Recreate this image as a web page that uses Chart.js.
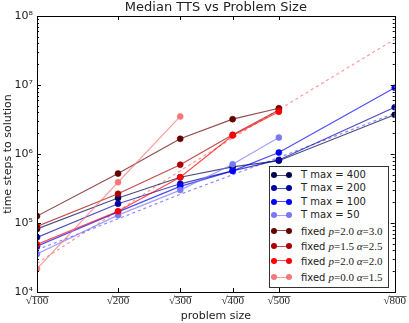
<!DOCTYPE html>
<html>
<head>
<meta charset="utf-8">
<script src="https://cdn.jsdelivr.net/npm/chart.js@4.4.0/dist/chart.umd.min.js"></script>
<style>
  html, body { margin: 0; padding: 0; background: #fff; }
  #wrap { position: relative; width: 409px; height: 323px; }
  #legend {
    position: absolute; left: 269px; top: 166px; width: 120px; height: 122px;
    border: 1px solid #333; background: #fff; box-sizing: border-box;
    font-family: 'DejaVu Sans', sans-serif; font-size: 10px; color: #222;
  }
  .row { position: absolute; left: 0; height: 14px; line-height: 14px; white-space: nowrap; }
  .sample { position: absolute; left: 4px; top: 7px; width: 15px; height: 0; }
  .sample .ln { position: absolute; left: 0; top: -0.5px; width: 15px; height: 1.2px; }
  .sample .dot { position: absolute; top: -3px; width: 6px; height: 6px; border-radius: 50%; box-sizing: border-box; }
  .txt { position: absolute; left: 31px; top: 0; }
  .m { font-family: 'Liberation Serif', serif; font-size: 11px; }
  .m i { font-style: italic; }
</style>
</head>
<body>
<div id="wrap">
  <canvas id="chart" width="409" height="323"></canvas>
  <div id="legend"></div>
</div>
<script>
// problem sizes (x axis is sqrt of these)
const sizes = [100, 200, 300, 400, 500, 800];
const xTicks = [100, 200, 300, 400, 500, 800];
const yTicks = [1e4, 1e5, 1e6, 1e7, 1e8];
const title = 'Median TTS vs Problem Size';

// median time steps to solution, null = not run
const tmax400 = [8.2e4, 2.3e5, 4.6e5, 6.5e5, 8.0e5, 3.7e6];
const tmax200 = [6.2e4, 1.9e5, 3.7e5, 5.7e5, 8.2e5, 4.75e6];
const tmax100 = [4.6e4, 1.45e5, 3.4e5, 5.7e5, 1.05e6, 9.1e6];
const tmax50  = [3.55e4, 1.3e5, 3.0e5, 7.1e5, 1.73e6, null];
const fixedA = [1.26e5, 5.2e5, 1.66e6, 3.2e6, 4.6e6, null];   // p=2.0 a=3.0
const fixedB = [8.9e4, 2.65e5, 7.0e5, 1.9e6, 4.35e6, null];   // p=1.5 a=2.5
const fixedC = [4.9e4, 1.48e5, 4.6e5, 1.85e6, 4.1e6, null];   // p=2.0 a=2.0
const fixedD = [2.17e4, 3.9e5, 3.5e6, null, null, null];      // p=0.0 a=1.5

// dashed fit curves at the tick sizes
const fitBlue = [4.1e4, 1.15e5, 2.6e5, 5.0e5, 8.9e5, 3.9e6];
const fitPink = [2.6e4, 1.5e5, 5.7e5, 1.7e6, 4.4e6, 4.6e7];

const series = [
  { label: 'T max = 400', data: tmax400, color: '0,0,76' },
  { label: 'T max = 200', data: tmax200, color: '0,0,166' },
  { label: 'T max = 100', data: tmax100, color: '0,0,255' },
  { label: 'T max = 50', data: tmax50, color: '120,120,245' },
  { label: 'fixed', math: ['p', '=2.0 ', 'α', '=3.0'], data: fixedA, color: '100,0,0' },
  { label: 'fixed', math: ['p', '=1.5 ', 'α', '=2.5'], data: fixedB, color: '170,0,0' },
  { label: 'fixed', math: ['p', '=2.0 ', 'α', '=2.0'], data: fixedC, color: '255,0,0' },
  { label: 'fixed', math: ['p', '=0.0 ', 'α', '=1.5'], data: fixedD, color: '245,120,120' }
];

function toPoints(vals) {
  const pts = [];
  vals.forEach((v, i) => { if (v !== null) pts.push({ x: Math.sqrt(sizes[i]), y: v }); });
  return pts;
}

const datasets = series.map((s, i) => ({
  label: s.label,
  data: toPoints(s.data),
  borderColor: `rgba(${s.color},0.7)`,
  borderWidth: 1.2,
  backgroundColor: `rgb(${s.color})`,
  pointBackgroundColor: `rgb(${s.color})`,
  pointBorderColor: `rgba(${s.color},1)`,
  pointBorderWidth: 0.6,
  pointRadius: 3,
  order: -i
}));

datasets.push({
  label: 'fit T', data: toPoints(fitBlue), borderColor: 'rgba(90,90,255,0.7)',
  borderWidth: 1.2, borderDash: [3, 3], pointRadius: 0, order: 5, cubicInterpolationMode: 'monotone'
});
datasets.push({
  label: 'fit fixed', data: toPoints(fitPink), borderColor: 'rgba(255,110,110,0.7)',
  borderWidth: 1.2, borderDash: [3, 3], pointRadius: 0, order: 5, cubicInterpolationMode: 'monotone'
});

const sup = { '0': '⁰', '1': '¹', '2': '²', '3': '³', '4': '⁴', '5': '⁵', '6': '⁶', '7': '⁷', '8': '⁸', '9': '⁹' };
const xFont = '11px "Liberation Serif"';

// frame, inward ticks, log minor ticks, sqrt overlines and the title
const framePlugin = {
  id: 'frame',
  afterDraw(chart) {
    const { ctx, chartArea: a, scales: { x, y } } = chart;
    ctx.save();
    ctx.strokeStyle = '#000';
    ctx.lineWidth = 1;
    ctx.strokeRect(Math.round(a.left) + 0.5, Math.round(a.top) + 0.5,
      Math.round(a.right - a.left), Math.round(a.bottom - a.top));
    ctx.beginPath();
    for (let e = 4; e <= 8; e++) {
      for (let m = 1; m <= 9; m++) {
        const v = m * Math.pow(10, e);
        if (v > 1e8) break;
        const py = Math.round(y.getPixelForValue(v)) + 0.5;
        const len = m === 1 ? 4 : 2;
        ctx.moveTo(a.left, py); ctx.lineTo(a.left + len, py);
        ctx.moveTo(a.right, py); ctx.lineTo(a.right - len, py);
      }
    }
    xTicks.forEach(n => {
      const px = Math.round(x.getPixelForValue(Math.sqrt(n))) + 0.5;
      ctx.moveTo(px, a.bottom); ctx.lineTo(px, a.bottom - 4);
      ctx.moveTo(px, a.top); ctx.lineTo(px, a.top + 4);
    });
    ctx.stroke();

    // overline over the radicand of each x tick label
    ctx.font = xFont;
    ctx.strokeStyle = '#333';
    ctx.lineWidth = 0.8;
    ctx.beginPath();
    xTicks.forEach(n => {
      const px = x.getPixelForValue(Math.sqrt(n));
      const full = ctx.measureText('√' + n).width;
      const root = ctx.measureText('√').width;
      const x0 = px - full / 2 + root - 0.5;
      ctx.moveTo(x0, a.bottom + 4.5);
      ctx.lineTo(px + full / 2 + 0.5, a.bottom + 4.5);
    });
    ctx.stroke();

    ctx.fillStyle = '#222';
    ctx.font = '13px "DejaVu Sans"';
    ctx.textAlign = 'center';
    ctx.textBaseline = 'middle';
    ctx.fillText(title, (a.left + a.right) / 2, 8);
    ctx.restore();
  }
};

new Chart(document.getElementById('chart'), {
  type: 'line',
  data: { datasets: datasets },
  options: {
    responsive: false,
    animation: false,
    layout: { padding: { top: 16, right: 13, bottom: 0, left: 0 } },
    plugins: {
      legend: { display: false },
      tooltip: { enabled: false },
      title: { display: false }
    },
    scales: {
      x: {
        type: 'linear', min: 10, max: Math.sqrt(800),
        afterBuildTicks: s => { s.ticks = xTicks.map(n => ({ value: Math.sqrt(n) })); },
        afterFit: s => { s.height = 31; },
        ticks: {
          autoSkip: false, maxRotation: 0, padding: 3, color: '#222',
          font: { family: 'Liberation Serif', size: 11 },
          callback: v => '√' + Math.round(v * v)
        },
        grid: { display: false, drawTicks: false },
        border: { display: false },
        title: {
          display: true, text: 'problem size', color: '#222',
          font: { family: 'DejaVu Sans', size: 11 }, padding: { top: 0, bottom: 0 }
        }
      },
      y: {
        type: 'logarithmic', min: 1e4, max: 1e8,
        afterBuildTicks: s => { s.ticks = yTicks.map(v => ({ value: v })); },
        afterFit: s => { s.width = 37; },
        ticks: {
          autoSkip: false, padding: 4, color: '#222',
          font: { family: 'DejaVu Sans', size: 11 },
          callback: v => '10' + String(Math.round(Math.log10(v))).split('').map(c => sup[c]).join('')
        },
        grid: { display: false, drawTicks: false },
        border: { display: false },
        title: {
          display: true, text: 'time steps to solution', color: '#222',
          font: { family: 'DejaVu Sans', size: 11 }, padding: { top: 2, bottom: 0 }
        }
      }
    }
  },
  plugins: [framePlugin]
});

// legend box, built from the series list
const legend = document.getElementById('legend');
const rowTops = [1, 14.3, 27.7, 41, 56.5, 72, 86.5, 103];
series.forEach((s, i) => {
  const row = document.createElement('div');
  row.className = 'row';
  row.style.top = rowTops[i] + 'px';
  const c = `rgb(${s.color})`;
  row.innerHTML =
    `<div class="sample"><div class="ln" style="background:rgba(${s.color},0.7)"></div>` +
    `<div class="dot" style="left:-3px;background:${c}"></div>` +
    `<div class="dot" style="left:12px;background:${c}"></div></div>`;
  const txt = document.createElement('div');
  txt.className = 'txt';
  if (s.math) {
    txt.innerHTML = s.label + ' <span class="m"><i>' + s.math[0] + '</i>' + s.math[1] +
      '<i>' + s.math[2] + '</i>' + s.math[3] + '</span>';
  } else {
    txt.textContent = s.label;
  }
  row.appendChild(txt);
  legend.appendChild(row);
});
</script>
</body>
</html>
